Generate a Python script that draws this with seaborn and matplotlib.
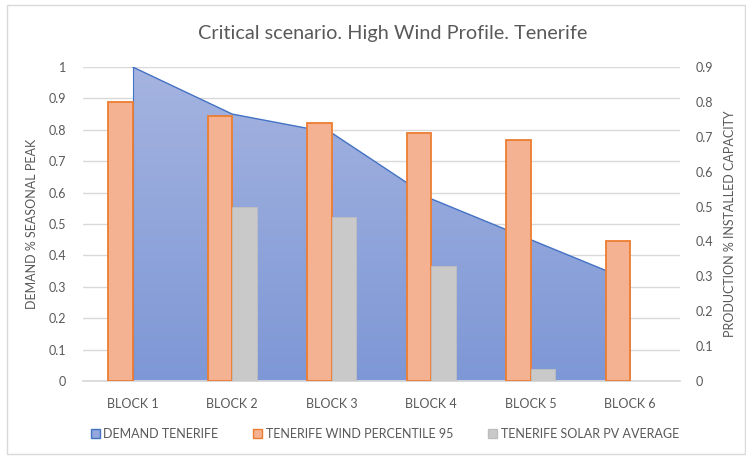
import numpy as np
import pandas as pd
import matplotlib
matplotlib.use("Agg")
import matplotlib.pyplot as plt
from matplotlib.patches import Rectangle, Patch
from matplotlib.colors import LinearSegmentedColormap
import seaborn as sns

# Chart data
blocks = ["BLOCK 1", "BLOCK 2", "BLOCK 3", "BLOCK 4", "BLOCK 5", "BLOCK 6"]
demand = [1.00, 0.85, 0.79, 0.58, 0.45, 0.32]          # % of seasonal peak (left axis)
wind_p95 = [0.80, 0.76, 0.74, 0.71, 0.69, 0.40]        # % installed capacity (right axis)
solar_avg = [0.00, 0.50, 0.47, 0.33, 0.035, 0.00]      # % installed capacity (right axis)
left_ticks = [0, 0.1, 0.2, 0.3, 0.4, 0.5, 0.6, 0.7, 0.8, 0.9, 1]
right_ticks = [0, 0.1, 0.2, 0.3, 0.4, 0.5, 0.6, 0.7, 0.8, 0.9]

series_demand = "DEMAND TENERIFE"
series_wind = "TENERIFE WIND PERCENTILE 95"
series_solar = "TENERIFE SOLAR PV AVERAGE"

sns.set_theme(style="white")
plt.rcParams["font.family"] = ["Lato", "DejaVu Sans"]

TXT = "#595959"
GRID = "#D9D9D9"
BLUE_EDGE = "#4472C4"
ORANGE_FILL = "#F5B293"
ORANGE_EDGE = "#ED7D31"
GRAY_FILL = "#C9C9C9"

fig = plt.figure(figsize=(7.46, 4.57), dpi=100)
W, H = 746, 457
left, right, bottom, top = 83, 680, 381, 67
ax1 = fig.add_axes([left / W, 1 - bottom / H, (right - left) / W, (bottom - top) / H])
ax2 = ax1.twinx()

# Outer chart border
fig.patches.append(Rectangle((7 / W, 3 / H), 738 / W, 449 / H, transform=fig.transFigure,
                             fill=False, edgecolor="#D9D9D9", linewidth=1.0))

# Demand area on the primary axis, with a vertical gradient fill
x = np.arange(len(blocks))
poly = ax1.fill_between(x, 0, demand, color="#93A7DC", linewidth=0, zorder=1)
grad = np.linspace(0, 1, 256).reshape(-1, 1)
cmap = LinearSegmentedColormap.from_list("blu", ["#7E97D6", "#A5B4E0"])
im = ax1.imshow(grad, cmap=cmap, origin="lower", aspect="auto",
                extent=[x[0], x[-1], 0, 1.0], zorder=1.2)
im.set_clip_path(poly.get_paths()[0], transform=ax1.transData)
ax1.plot(x, demand, color=BLUE_EDGE, linewidth=1.0, zorder=1.5)
ax1.plot([x[0], x[0]], [0, demand[0]], color=BLUE_EDGE, linewidth=0.8, zorder=1.5)

ax1.set_xlim(-0.5, len(blocks) - 0.5)
ax1.set_ylim(0, 1.0)
ax1.set_yticks(left_ticks)
ax1.set_yticklabels([f"{t:g}" for t in left_ticks])
ax1.set_axisbelow(True)
ax1.grid(axis="y", color=GRID, linewidth=1.0)
ax1.grid(axis="x", visible=False)

# Wind and solar bars on the secondary axis
df = pd.DataFrame({
    "block": blocks * 2,
    "series": [series_wind] * len(blocks) + [series_solar] * len(blocks),
    "value": wind_p95 + solar_avg,
})
sns.barplot(data=df, x="block", y="value", hue="series",
            hue_order=[series_wind, series_solar],
            palette=[ORANGE_FILL, GRAY_FILL], width=0.49, gap=0,
            saturation=1, ax=ax2, legend=False, zorder=3)
n = len(blocks)
for i, p in enumerate(ax2.patches):
    if i < n:
        p.set_edgecolor(ORANGE_EDGE)
        p.set_linewidth(1.3)
    else:
        p.set_edgecolor("#BEBEBE")
        p.set_linewidth(0.6 if p.get_height() > 0 else 0)
ax2.set_ylim(0, 0.9)
ax2.set_yticks(right_ticks)
ax2.set_yticklabels([f"{t:g}" for t in right_ticks])
ax2.set_xlim(-0.5, len(blocks) - 0.5)
ax2.grid(False)

for ax in (ax1, ax2):
    for s in ax.spines.values():
        s.set_visible(False)
    ax.tick_params(length=0, labelsize=9, colors=TXT)
ax1.spines["bottom"].set_visible(True)
ax1.spines["bottom"].set_color(GRID)
ax1.tick_params(axis="y", pad=12)
ax2.tick_params(axis="y", pad=11)
ax2.tick_params(axis="x", pad=12)
ax1.tick_params(axis="x", pad=12)
ax2.set_xlabel("")
ax1.set_xticks(x)
ax1.set_xticklabels(blocks)

ax1.set_ylabel("DEMAND % SEASONAL PEAK", fontsize=9, color=TXT, labelpad=8)
ax2.set_ylabel("PRODUCTION % INSTALLED CAPACITY", fontsize=9, color=TXT,
               rotation=90, labelpad=8)

fig.text(0.526, 1 - 33 / H, "Critical scenario. High Wind Profile. Tenerife",
         ha="center", va="center", fontsize=14.3, color=TXT)

handles = [
    Patch(facecolor="#93A7DC", edgecolor=BLUE_EDGE, label=series_demand),
    Patch(facecolor=ORANGE_FILL, edgecolor=ORANGE_EDGE, label=series_wind),
    Patch(facecolor=GRAY_FILL, edgecolor="#BEBEBE", label=series_solar),
]
fig.legend(handles=handles, loc="center", bbox_to_anchor=(0.516, 1 - 434 / H),
           ncol=3, frameon=False, fontsize=9, labelcolor=TXT,
           handlelength=0.7, handleheight=0.7, handletextpad=0.3, columnspacing=2.8)

fig.savefig("out.png", dpi=100)
